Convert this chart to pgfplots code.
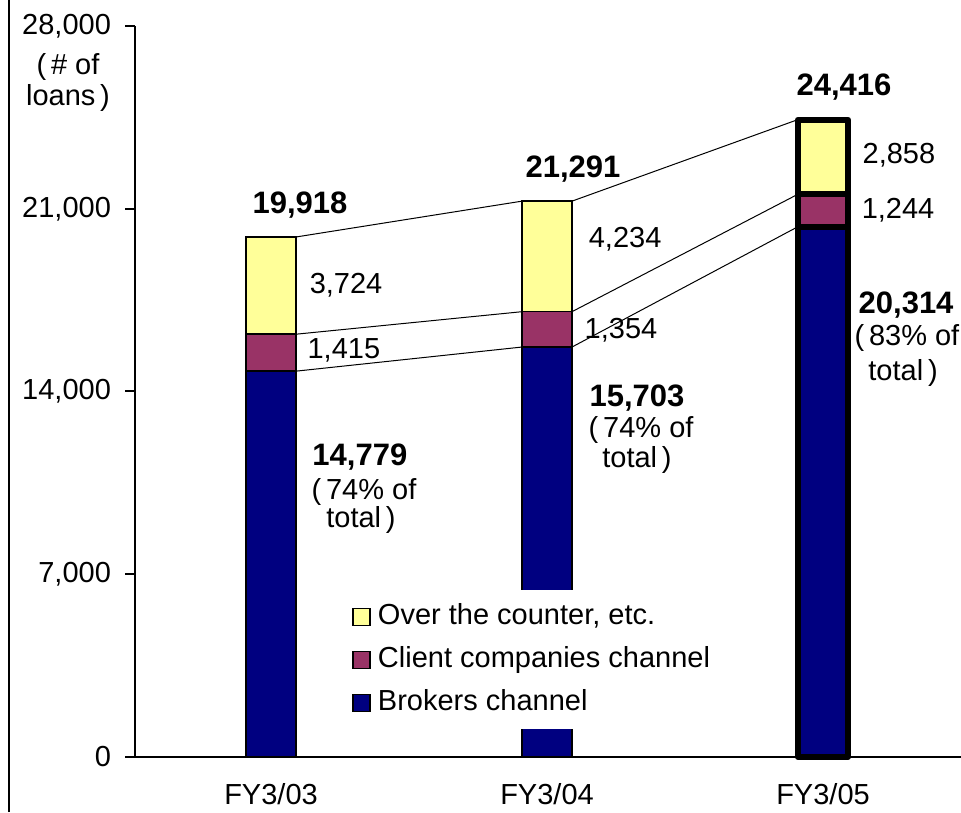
\documentclass[border=0pt]{standalone}
\usepackage{fontspec}
\setmainfont{Liberation Sans}
\usepackage{pgfplots}
\pgfplotsset{compat=1.18}
\definecolor{otc}{HTML}{FFFF99}
\definecolor{cli}{HTML}{993366}
\definecolor{brk}{HTML}{000080}
\newcommand{\nf}{\fontsize{14.5}{15.5}\selectfont}
\newcommand{\bfn}{\fontsize{15.5}{17}\selectfont\bfseries}
\pgfplotsset{base/.style={
  at={(67.5pt,27.5pt)}, anchor=south west, scale only axis,
  width=413pt, height=365.5pt,
  xmin=-0.4928, xmax=2.5, ymin=0, ymax=28000,
  bar width=0.181, clip=false,
}}
\begin{document}
\begin{tikzpicture}
\useasboundingbox (0,0) rectangle (480.5pt,406pt);
\draw[line width=1pt] (4.5pt,0) -- (4.5pt,406pt);
\node[align=center, font=\nf] at (34pt,364.5pt) {(\,\# of\\loans\,)};
% bars FY3/03, FY3/04
\begin{axis}[base, ybar stacked,
  axis x line=bottom, axis y line=left,
  axis line style={line width=1pt,-},
  ytick={0,7000,14000,21000,28000},
  xtick={0,1,2}, xticklabels={FY3/03,FY3/04,FY3/05},
  tick align=outside, major tick length=5pt,
  ytick style={line width=1pt, black},
  xtick style={draw=none},
  yticklabel style={font=\nf, xshift=-3.5pt},
  xticklabel style={font=\nf, inner sep=0pt, anchor=north, yshift=-8pt},
  /pgf/number format/assume math mode=true,
  /pgf/number format/1000 sep={,},
  scaled y ticks=false,
  reverse legend,
  legend cell align=left,
  legend image code/.code={\draw[#1, line width=0.8pt] (0pt,-4.25pt) rectangle (8.5pt,4.25pt);},
  legend style={at={(0.253,0.2285)}, anchor=north west, draw=none, fill=white,
    font=\nf, inner sep=4pt, row sep=3pt, column sep=1.5pt,
    nodes={text height=11pt, text depth=3.5pt, inner sep=2pt}},
]
\addplot[fill=brk, draw=black, line width=0.8pt] coordinates {(0,14779) (1,15703)};
\addplot[fill=cli, draw=black, line width=0.8pt] coordinates {(0,1415) (1,1354)};
\addplot[fill=otc, draw=black, line width=0.8pt] coordinates {(0,3724) (1,4234)};
\legend{Brokers channel, Client companies channel, {Over the counter, etc.}}
\end{axis}
% bar FY3/05 (thick outline)
\begin{axis}[base, ybar stacked, hide axis]
\addplot[fill=brk, draw=black, line width=3pt, line join=round] coordinates {(2,20314)};
\addplot[fill=cli, draw=black, line width=3pt, line join=round] coordinates {(2,1244)};
\addplot[fill=otc, draw=black, line width=3pt, line join=round] coordinates {(2,2858)};
\end{axis}
% connecting lines and labels
\begin{axis}[base, hide axis]
\addplot[black, line width=0.5pt] coordinates {(0.0905,19918) (0.9095,21291)};
\addplot[black, line width=0.5pt] coordinates {(1.0905,21291) (1.9095,24416)};
\addplot[black, line width=0.5pt] coordinates {(0.0905,16194) (0.9095,17057)};
\addplot[black, line width=0.5pt] coordinates {(1.0905,17057) (1.9095,21558)};
\addplot[black, line width=0.5pt] coordinates {(0.0905,14779) (0.9095,15703)};
\addplot[black, line width=0.5pt] coordinates {(1.0905,15703) (1.9095,20314)};
\node[font=\bfn] at (axis cs:0.105,21144) {19,918};
\node[font=\nf] at (axis cs:0.272,18080) {3,724};
\node[font=\nf] at (axis cs:0.264,15590) {1,415};
\node[font=\bfn] at (axis cs:0.322,11491) {14,779};
\node[font=\nf] at (axis cs:0.337,10151) {(\,74\% of};
\node[font=\nf] at (axis cs:0.326,9078) {total\,)};
\node[font=\bfn] at (axis cs:1.094,22523) {21,291};
\node[font=\nf] at (axis cs:1.283,19841) {4,234};
\node[font=\nf] at (axis cs:1.268,16356) {1,354};
\node[font=\bfn] at (axis cs:1.326,13751) {15,703};
\node[font=\nf] at (axis cs:1.341,12525) {(\,74\% of};
\node[font=\nf] at (axis cs:1.326,11376) {total\,)};
\node[font=\bfn] at (axis cs:2.076,25664) {24,416};
\node[font=\nf] at (axis cs:2.275,23059) {2,858};
\node[font=\nf] at (axis cs:2.272,20952) {1,244};
\node[font=\bfn] at (axis cs:2.301,17313) {20,314};
\node[font=\nf] at (axis cs:2.304,16049) {(\,83\% of};
\node[font=\nf] at (axis cs:2.29,14709) {total\,)};
\end{axis}
\end{tikzpicture}
\end{document}
